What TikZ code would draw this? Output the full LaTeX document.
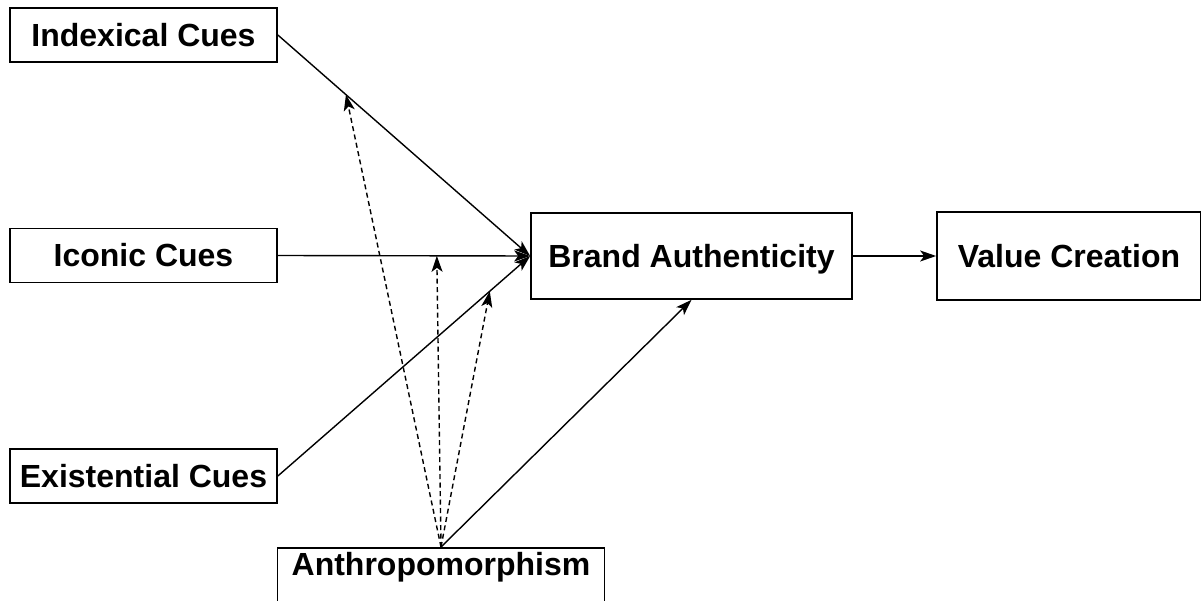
\documentclass[tikz,border=0pt]{standalone}
\usepackage{fontspec}
\setmainfont{Liberation Sans}
\usetikzlibrary{arrows.meta}

\begin{document}
\begin{tikzpicture}[x=1pt,y=-1pt,
		box/.style={draw,line width=1.7pt,inner sep=0pt,text height=22.5pt,text depth=0pt,font=\fontsize{32}{36}\selectfont\bfseries},
		cue/.style={box,minimum width=267pt,minimum height=54pt},
		link/.style={line width=1.4pt,-{Stealth[length=16pt,width=11pt,inset=4pt]}},
		moderator/.style={link,dash pattern=on 5pt off 3.5pt}]
				\useasboundingbox (0,0) rectangle (1201,601);
				\clip (0,0) rectangle (1201,601);
				
				% Draw the boxes
				\node[cue] (index) at (143.5,35) {Indexical Cues};
				\node[cue] (icon) at (143.5,255.5) {Iconic Cues};
				\node[cue] (exist) at (143.5,476) {Existential Cues};
				\node[box,minimum width=321pt,minimum height=86pt] (brand) at (691.5,256) {Brand Authenticity};
				\node[box,minimum width=264pt,minimum height=88pt] (value) at (1069,256) {Value Creation};
				\node[box,minimum width=327pt,text height=28pt,text depth=42pt,anchor=north] (anthro) at (441,547) {Anthropomorphism};
				
				% Draw the paths
				\draw[link] (index.east) -- coordinate[pos=0.27] (onindex) (brand.west);
				\draw[link] (icon.east) -- coordinate[pos=0.63] (onicon) (brand.west);
				\draw[link] (exist.east) -- coordinate[pos=0.84] (onexist) (brand.west);
				\draw[link] (brand.east) -- (value.west);
				\draw[link] (anthro.north) -- (brand.south);
				
				% Moderating effects
				\foreach \target in {onindex, onicon, onexist}
				\draw[moderator] (anthro.north) -- (\target);
			\end{tikzpicture}
\end{document}
